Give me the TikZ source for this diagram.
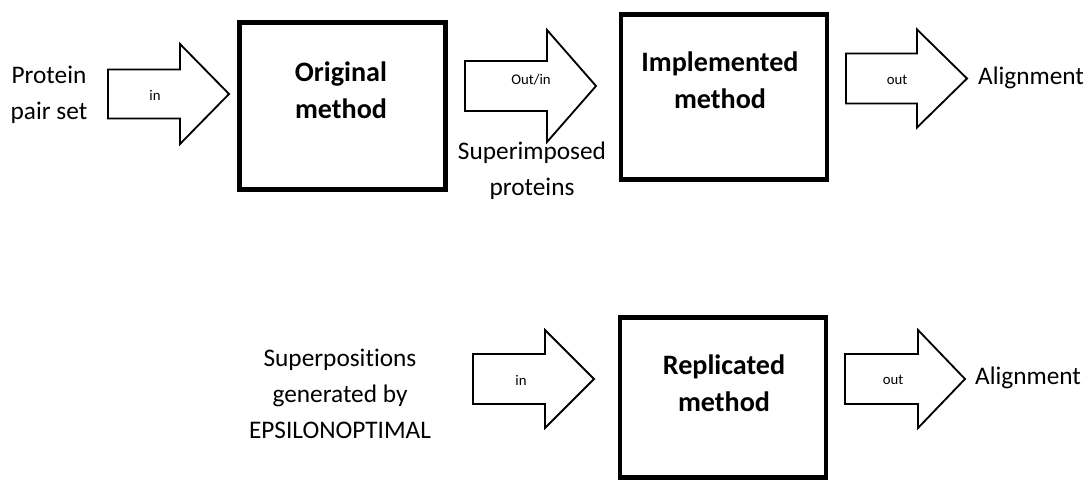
\documentclass[tikz,border=0pt]{standalone}
\usepackage{fontspec}
\setmainfont{Carlito}[Ligatures=NoCommon]
\usetikzlibrary{positioning}
\tikzset{
  methodbox/.style={draw,line width=3.5pt,inner sep=0pt,minimum width=5.15cm},
  boxtxt/.style={font=\fontsize{20}{26.5}\selectfont\bfseries,align=center},
  io/.style={font=\fontsize{18}{25.5}\selectfont,align=center},
  blockarr/.style={draw,line width=1.3pt,line join=miter,fill=white},
  arrlab/.style={font=\fontsize{10.5}{12}\selectfont},
}

\begin{document}
\begin{tikzpicture}[x=0.025cm,y=-0.025cm]
  \useasboundingbox (0,0) rectangle (1091,480);
  % method boxes
  \node[methodbox,minimum height=4.175cm] (orig) at (342.5,106) {};
  \node[methodbox,minimum height=4.125cm] (impl) at (724,97) {};
  \node[methodbox,minimum height=4.0cm] (repl) at (723,397.5) {};
  \node[boxtxt] (origtxt) at (341,90) {Original\\method};
  \node[boxtxt] (impltxt) at (720,80) {Implemented\\method};
  \node[boxtxt] (repltxt) at (724,383) {Replicated\\method};
  % inputs / outputs
  \node[io] (pairs) at (49,94.5) {Protein\\pair set};
  \node[io] (superimp) at (532,171) {Superimposed\\proteins};
  \node[io] (aligntop) at (1031,78) {Alignment};
  \node[io] (epsilon) at (340,394) {Superpositions\\generated by\\EPSILONOPTIMAL};
  \node[io] (alignbot) at (1028,378) {Alignment};
  % block arrows, top row
  \draw[blockarr] (108,69.5) -- (180,69.5) -- (180,44) -- (229,94)
    -- (180,144) -- (180,118.5) -- (108,118.5) -- cycle;
  \node[arrlab] (inA) at (155,95) {in};
  \draw[blockarr] (465,61) -- (547,61) -- (547,30) -- (596,86)
    -- (547,142) -- (547,111) -- (465,111) -- cycle;
  \node[arrlab] (outinA) at (531,80) {Out/in};
  \draw[blockarr] (846,53.5) -- (917,53.5) -- (917,29.5) -- (967,78.5)
    -- (917,127.5) -- (917,103.5) -- (846,103.5) -- cycle;
  \node[arrlab] (outA) at (897,80) {out};
  % block arrows, bottom row
  \draw[blockarr] (473,354) -- (545,354) -- (545,330) -- (594,379)
    -- (545,428) -- (545,404) -- (473,404) -- cycle;
  \node[arrlab] (inB) at (521,380) {in};
  \draw[blockarr] (845,354) -- (918,354) -- (918,330) -- (965,379)
    -- (918,428) -- (918,404) -- (845,404) -- cycle;
  \node[arrlab] (outB) at (893,380) {out};
\end{tikzpicture}
\end{document}
